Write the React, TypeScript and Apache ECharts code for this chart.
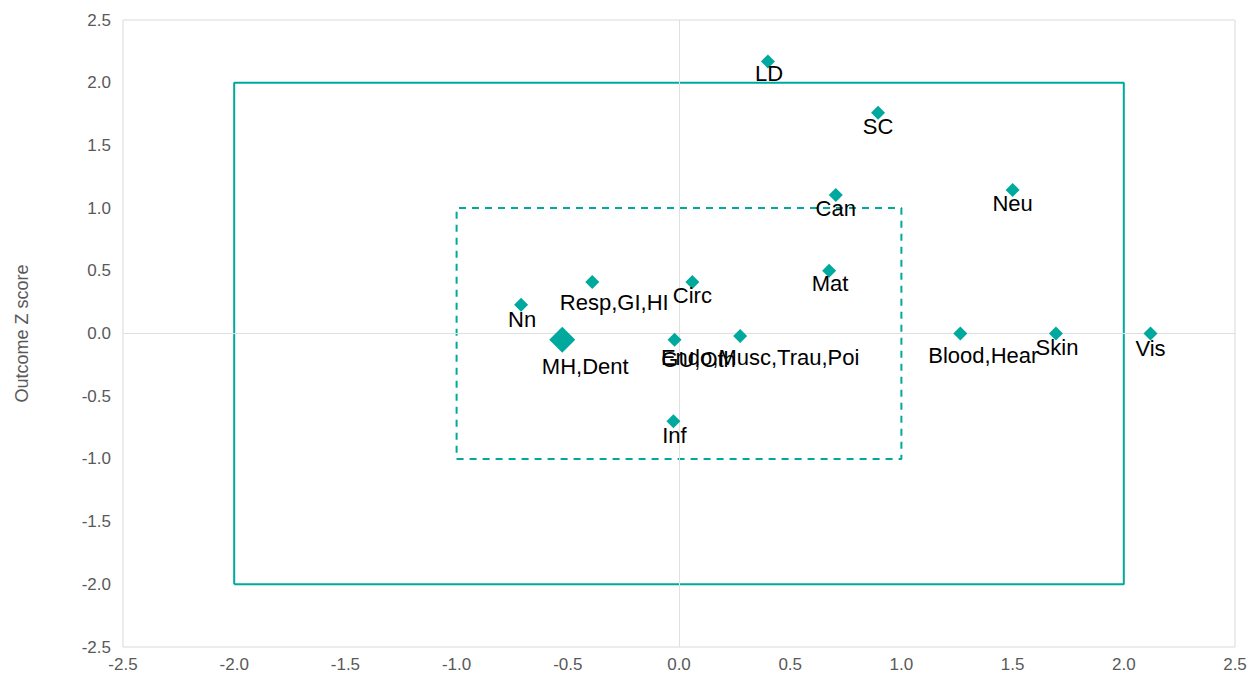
import React, { useEffect, useRef } from "react";
import * as echarts from "echarts";

const names = [
  "LD", "SC", "Can", "Neu", "Mat", "Circ", "Resp,GI,HI", "Nn",
  "MH,Dent", "GU,Oth", "Endo,Musc,Trau,Poi", "Blood,Hear", "Skin", "Vis", "Inf",
];
const xValues = [0.4, 0.895, 0.705, 1.5, 0.675, 0.06, -0.39, -0.71, -0.525, -0.02, 0.275, 1.265, 1.695, 2.12, -0.025];
const yValues = [2.17, 1.76, 1.105, 1.145, 0.5, 0.41, 0.41, 0.23, -0.05, -0.05, -0.02, 0.0, 0.0, 0.0, -0.7];
const bigPoints = ["MH,Dent"];

// label placement (pixels relative to the marker)
const labelOffsets: [number, number][] = [
  [1, 12], [0, 14], [0, 14], [0, 14], [1, 13], [0, 13], [22, 20], [1, 15],
  [23, 27], [24, 20], [20, 21], [23, 22], [1, 14], [0, 15], [1, 14],
];

const outerBox = [[-2, -2], [2, -2], [2, 2], [-2, 2], [-2, -2]];
const innerBox = [[-1, -1], [1, -1], [1, 1], [-1, 1], [-1, -1]];

const axisMin = -2.5;
const axisMax = 2.5;
const axisStep = 0.5;
const yAxisName = "Outcome Z score";

const TEAL = "#00A99D";
const FONT = "'Liberation Sans', Arial, sans-serif";

export default function App() {
  const ref = useRef<HTMLDivElement>(null);
  useEffect(() => {
    if (!ref.current) return;
    const chart = echarts.init(ref.current, undefined, { renderer: "svg" });
    const pts = names.map((n, i) => ({
      name: n,
      value: [xValues[i], yValues[i]],
      symbolSize: bigPoints.includes(n) ? 26 : 14,
      label: { offset: labelOffsets[i] },
    }));
    chart.setOption({
      animation: false,
      textStyle: { fontFamily: FONT },
      grid: {
        left: 123, right: 17, top: 20, bottom: 35,
        show: true, borderColor: "#d9d9d9", borderWidth: 1,
      },
      xAxis: {
        type: "value", min: axisMin, max: axisMax, interval: axisStep,
        axisLine: { show: false }, axisTick: { show: false }, splitLine: { show: false },
        axisLabel: {
          color: "#595959", fontSize: 17, fontFamily: FONT, margin: 9,
          formatter: (v: number) => v.toFixed(1),
        },
      },
      yAxis: {
        type: "value", min: axisMin, max: axisMax, interval: axisStep,
        name: yAxisName, nameLocation: "middle", nameGap: 92,
        nameTextStyle: { color: "#595959", fontSize: 18, fontFamily: FONT },
        axisLine: { show: false }, axisTick: { show: false }, splitLine: { show: false },
        axisLabel: {
          color: "#595959", fontSize: 17, fontFamily: FONT, margin: 12,
          formatter: (v: number) => v.toFixed(1),
        },
      },
      series: [
        {
          type: "line", data: [], silent: true,
          markLine: {
            silent: true, symbol: "none", label: { show: false },
            lineStyle: { color: "#e0e0e0", type: "solid", width: 1 },
            data: [{ xAxis: 0 }, { yAxis: 0 }],
          },
        },
        {
          type: "line", data: outerBox, symbol: "none", silent: true,
          lineStyle: { color: TEAL, width: 2 },
        },
        {
          type: "line", data: innerBox, symbol: "none", silent: true,
          lineStyle: { color: TEAL, width: 2, type: [7, 6] },
        },
        {
          type: "scatter", symbol: "diamond", data: pts, z: 5,
          itemStyle: { color: TEAL, opacity: 1 },
          label: {
            show: true, position: "inside", formatter: "{b}",
            color: "#000000", fontSize: 22, fontFamily: FONT,
          },
        },
      ],
    });
    return () => chart.dispose();
  }, []);
  return (
    <div
      ref={ref}
      style={{ position: "fixed", left: 0, top: 0, width: 1252, height: 682, background: "#fff" }}
    />
  );
}
